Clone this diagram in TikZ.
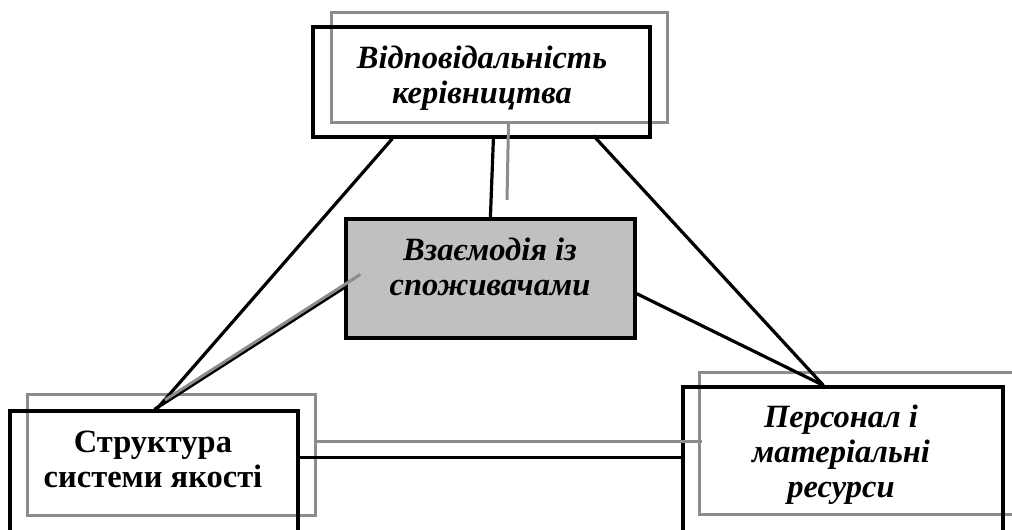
\documentclass[tikz,border=0pt]{standalone}
\usepackage{fontspec}
\setmainfont{Liberation Serif}
\usetikzlibrary{calc}
\definecolor{lgray}{RGB}{140,140,140}
\definecolor{boxfill}{RGB}{192,192,192}
\begin{document}
\begin{tikzpicture}[x=1pt,y=-1pt,
  blk/.style={draw=black,line width=3.2pt},
  gry/.style={draw=lgray,line width=3pt},
  bbox/.style={blk,rectangle,inner sep=0pt},
  gbox/.style={gry,rectangle,inner sep=0pt},
  txt/.style={font=\fontsize{32.5}{35}\selectfont\bfseries\itshape,align=center,inner sep=0pt},
  txtup/.style={font=\fontsize{32.5}{35}\selectfont\bfseries,align=center,inner sep=0pt}]
\useasboundingbox (0,0) rectangle (1012,530);
% frames
\node[gbox,minimum width=336pt,minimum height=110pt] (topG) at (499,67) {};
\node[gbox,minimum width=288pt,minimum height=121pt] (strG) at (171,454.5) {};
\node[gbox,minimum width=316pt,minimum height=142pt] (perG) at (857,443) {};
\node[bbox,minimum width=337pt,minimum height=110pt] (topB) at (481.5,82) {};
\node[bbox,minimum width=288pt,minimum height=122pt] (strB) at (154,472) {};
\node[bbox,minimum width=320pt,minimum height=146pt] (perB) at (843,460) {};
\node[bbox,fill=boxfill,minimum width=289pt,minimum height=119pt] (midB) at (490.5,278.5) {};
% free ends
\coordinate (gEndTop) at (507,200);
\coordinate (gEndLeft) at (165,400);
% connectors
\draw[gry] ($(topG.south west)+(179,0)$) -- (gEndTop);
\draw[gry] ($(strG.north east)+(0,49)$) -- ($(perG.north west)+(4,71)$);
\draw[blk] ($(topB.south west)+(81,0)$) -- ($(strB.north west)+(148,0)$);
\draw[blk] ($(topB.south west)+(182,0)$) -- ($(midB.north west)+(146,0)$);
\draw[blk] ($(topB.south west)+(282,-3)$) -- ($(perB.north west)+(142,0)$);
\draw[blk] ($(midB.south east)+(0,-46)$) -- ($(perB.north west)+(142,0)$);
\draw[blk] ($(midB.north west)+(0,70)$) -- ($(strB.north west)+(146,0)$);
\draw[gry] ($(midB.north west)+(16,57)$) -- (gEndLeft);
\draw[blk] ($(strB.north east)+(0,48)$) -- ($(perB.north west)+(4,72)$);
% texts
\node[txt] (topT) at (482,78.5) {\strut Відповідальність\\\strut керівництва};
\node[txt] (midT) at (490,270.5) {\strut Взаємодія із\\\strut споживачами};
\node[txtup] (strT) at (153,462.5) {\strut Структура\\\strut системи якості};
\node[txt] (perT) at (841,455) {\strut Персонал і\\\strut матеріальні\\\strut ресурси};
\end{tikzpicture}
\end{document}
